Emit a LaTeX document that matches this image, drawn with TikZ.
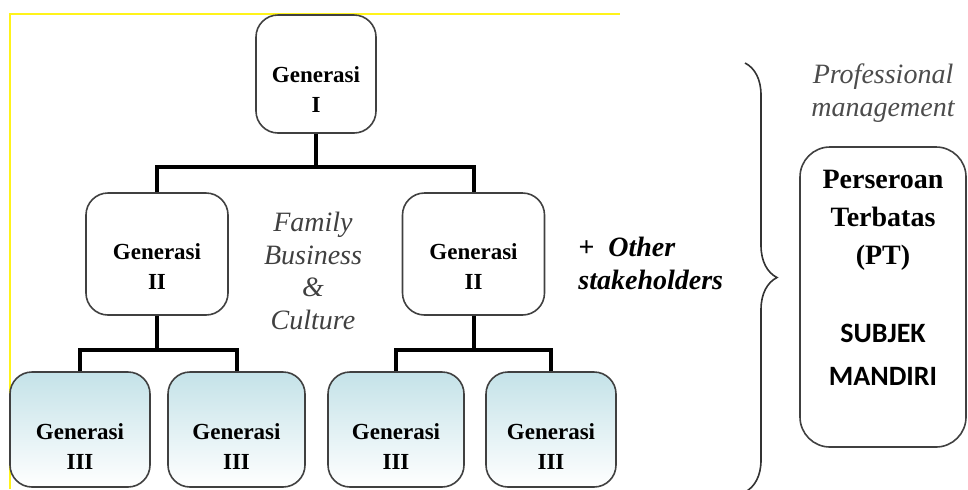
\documentclass[tikz,border=0pt]{standalone}
\usepackage{fontspec}
\setmainfont{Liberation Serif}
\newfontfamily\calibfont{Carlito}
\usetikzlibrary{decorations.pathreplacing}

\begin{document}
\begin{tikzpicture}[x=0.5pt,y=-0.5pt,
  box/.style={draw=black!75,line width=0.8pt,rounded corners=11pt,inner sep=0pt},
  genI/.style={box,minimum width=60pt,minimum height=59pt},
  genII/.style={box,minimum width=71pt,minimum height=61pt},
  genIII/.style={box,minimum width=#1,minimum height=57.5pt,
    top color={rgb,255:red,196;green,226;blue,232},middle color=white,bottom color=white},
  gtxt/.style={font=\bfseries\fontsize{11.5}{15}\selectfont,align=center,inner sep=0pt},
  link/.style={line width=2pt},
  note/.style={font=\itshape\fontsize{14}{16.4}\selectfont,align=center,inner sep=0pt}]
  \useasboundingbox (0,0) rectangle (968,489);
  \draw[yellow!90!white,line width=1pt] (10,489) -- (10,14) -- (620,14);
  % generasi boxes
  \node[genI] (g1) at (316,74) {};
  \node[genII] (g2a) at (157,254) {};
  \node[genII] (g2b) at (473.5,254) {};
  \node[genIII=70pt] (g3a) at (80,429.5) {};
  \node[genIII=68.5pt] (g3b) at (236.5,429.5) {};
  \node[genIII=68pt] (g3c) at (396,429.5) {};
  \node[genIII=65pt] (g3d) at (551,429.5) {};
  \node[gtxt] (t1) at ([yshift=-8pt]g1.center) {Generasi\\I};
  \node[gtxt] (t2a) at ([yshift=-6.5pt]g2a.center) {Generasi\\II};
  \node[gtxt] (t2b) at ([yshift=-6.5pt]g2b.center) {Generasi\\II};
  \node[gtxt] (t3a) at ([yshift=-8.5pt]g3a.center) {Generasi\\III};
  \node[gtxt] (t3b) at ([yshift=-8.5pt]g3b.center) {Generasi\\III};
  \node[gtxt] (t3c) at ([yshift=-8.5pt]g3c.center) {Generasi\\III};
  \node[gtxt] (t3d) at ([yshift=-8.5pt]g3d.center) {Generasi\\III};
  % tree lines
  \coordinate (j1) at (316,167);
  \coordinate (j2) at (157,350);
  \coordinate (j3) at (473.5,350);
  \draw[link] (g1.south) -- (j1);
  \draw[link] (g2a.north) |- (j1) -| (g2b.north);
  \draw[link] (g2a.south) -- (j2);
  \draw[link] (g3a.north) |- (j2) -| (g3b.north);
  \draw[link] (g2b.south) -- (j3);
  \draw[link] (g3c.north) |- (j3) -| (g3d.north);
  \node[note,text=black!75] (fam) at (313,271) {Family\\Business\\\&\\Culture};
  \node[note,font=\bfseries\itshape\fontsize{14}{16.5}\selectfont,align=left,anchor=west] (oth) at (578,263) {+\ \ Other\\stakeholders};
  % brace and PT
  \coordinate (b1) at (745,63);
  \coordinate (b2) at (745,492);
  \draw[black!80,line width=0.8pt,decorate,decoration={brace,amplitude=16pt}] (b1) -- (b2);
  \node[note,text=black!70,font=\itshape\fontsize{14}{16.5}\selectfont] (prof) at (883,93) {Professional\\management};
  \node[box,rounded corners=15pt,minimum width=83pt,minimum height=150pt] (pt) at (883,297) {};
  \node[inner sep=0pt,align=center,anchor=north,font=\bfseries\fontsize{14}{19}\selectfont] (ptt) at (883,170)
    {Perseroan\\Terbatas\\(PT)\\[20pt]{\calibfont\bfseries SUBJEK}\\[2.5pt]{\calibfont\bfseries MANDIRI}};
\end{tikzpicture}
\end{document}
